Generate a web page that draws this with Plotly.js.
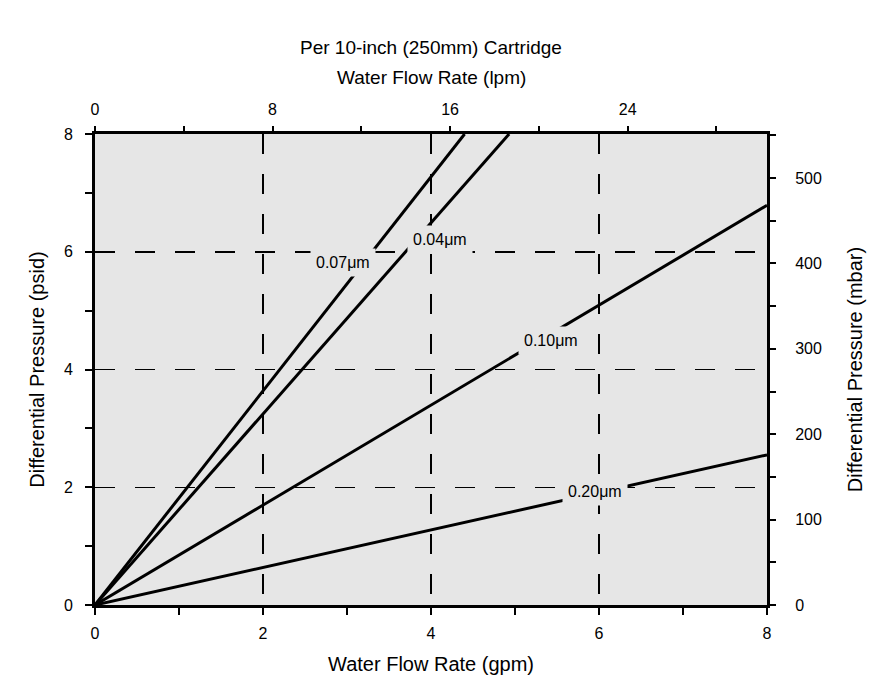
<!DOCTYPE html>
<html><head><meta charset="utf-8">
<script src="https://cdn.plot.ly/plotly-3.0.1.min.js"></script>
<style>html,body{margin:0;padding:0;background:#fff}#chart{width:876px;height:685px}</style>
</head><body><div id="chart"></div>
<script>
// Data: water flow rate (gpm) vs differential pressure (psid)
const seriesNames = ["0.07μm", "0.04μm", "0.10μm", "0.20μm"];
const flowGpm = [[0, 4.40], [0, 4.93], [0, 8], [0, 8]];
const pressurePsid = [[0, 8], [0, 8], [0, 6.79], [0, 2.55]];
const labelGpm = [2.95, 4.11, 5.43, 5.95];
const labelPsid = [5.82, 6.2, 4.5, 1.92];
const GPM_TO_LPM = 3.785;
const PSI_TO_MBAR = 68.95;

const FONT = "'Liberation Sans Narrow', 'Arial Narrow', 'Liberation Sans', sans-serif";
const traces = seriesNames.map((n, i) => ({
  x: flowGpm[i], y: pressurePsid[i], type: 'scatter', mode: 'lines', name: n,
  line: {color: '#000', width: 3}, showlegend: false, hoverinfo: 'skip'
}));
// invisible trace to activate secondary axes
traces.push({x: [0], y: [0], xaxis: 'x2', yaxis: 'y2', mode: 'markers', marker: {opacity: 0}, showlegend: false, hoverinfo: 'skip'});

const annotations = seriesNames.map((n, i) => ({
  x: labelGpm[i], y: labelPsid[i], xref: 'x', yref: 'y', text: n, showarrow: false,
  bgcolor: '#e6e6e6', borderpad: 5, font: {family: FONT, size: 16, color: '#000'}
}));
annotations.push({x: 0.5, y: 1, xref: 'paper', yref: 'paper', yshift: 87, yanchor: 'middle', text: 'Per 10-inch (250mm) Cartridge', showarrow: false, font: {family: FONT, size: 19, color: '#000'}});
annotations.push({x: 0.5, y: 1, xref: 'paper', yref: 'paper', yshift: 57, yanchor: 'middle', text: 'Water Flow Rate (lpm)', showarrow: false, font: {family: FONT, size: 19, color: '#000'}});

const tickFont = {family: FONT, size: 16, color: '#000'};
const titleFont = {family: FONT, size: 20, color: '#000'};
const layout = {
  width: 876, height: 685,
  margin: {l: 95, r: 109, t: 134, b: 80},
  paper_bgcolor: '#fff', plot_bgcolor: '#e6e6e6',
  font: {family: FONT, color: '#000'},
  xaxis: {
    range: [0, 8], tickvals: [0, 2, 4, 6, 8], ticks: 'outside', ticklen: 7, tickwidth: 2, tickcolor: '#000',
    showline: true, linewidth: 3, linecolor: '#000', zeroline: false,
    showgrid: true, gridcolor: '#000', gridwidth: 1.5, griddash: '20px,20px',
    minor: {dtick: 1, ticks: 'outside', ticklen: 7, tickwidth: 2, tickcolor: '#000', showgrid: false},
    tickfont: tickFont, ticklabelstandoff: 5,
    title: {text: 'Water Flow Rate (gpm)', font: titleFont, standoff: 16}
  },
  yaxis: {
    range: [0, 8], tickvals: [0, 2, 4, 6, 8], ticks: 'outside', ticklen: 7, tickwidth: 2, tickcolor: '#000',
    showline: true, linewidth: 3, linecolor: '#000', zeroline: false,
    showgrid: true, gridcolor: '#000', gridwidth: 1.5, griddash: '20px,20px',
    minor: {dtick: 1, ticks: 'outside', ticklen: 7, tickwidth: 2, tickcolor: '#000', showgrid: false},
    tickfont: tickFont, ticklabelstandoff: 9,
    title: {text: 'Differential Pressure (psid)', font: titleFont, standoff: 14}
  },
  xaxis2: {
    overlaying: 'x', side: 'top', range: [0, 8 * GPM_TO_LPM], tickvals: [0, 8, 16, 24],
    ticks: 'outside', ticklen: 5, tickwidth: 2, tickcolor: '#000',
    minor: {dtick: 4, ticks: 'outside', ticklen: 5, tickwidth: 2, tickcolor: '#000', showgrid: false},
    showline: true, linewidth: 3, linecolor: '#000', showgrid: false, zeroline: false,
    tickfont: tickFont, ticklabelstandoff: 5
  },
  yaxis2: {
    overlaying: 'y', side: 'right', range: [0, 8 * PSI_TO_MBAR], tickvals: [0, 100, 200, 300, 400, 500],
    ticks: 'outside', ticklen: 6, tickwidth: 2, tickcolor: '#000',
    minor: {dtick: 50, ticks: 'outside', ticklen: 6, tickwidth: 2, tickcolor: '#000', showgrid: false},
    showline: true, linewidth: 3, linecolor: '#000', showgrid: false, zeroline: false,
    tickfont: tickFont, ticklabelstandoff: 16,
    title: {text: 'Differential Pressure (mbar)', font: titleFont, standoff: 28}
  },
  annotations: annotations
};
Plotly.newPlot('chart', traces, layout, {staticPlot: true});
</script></body></html>
